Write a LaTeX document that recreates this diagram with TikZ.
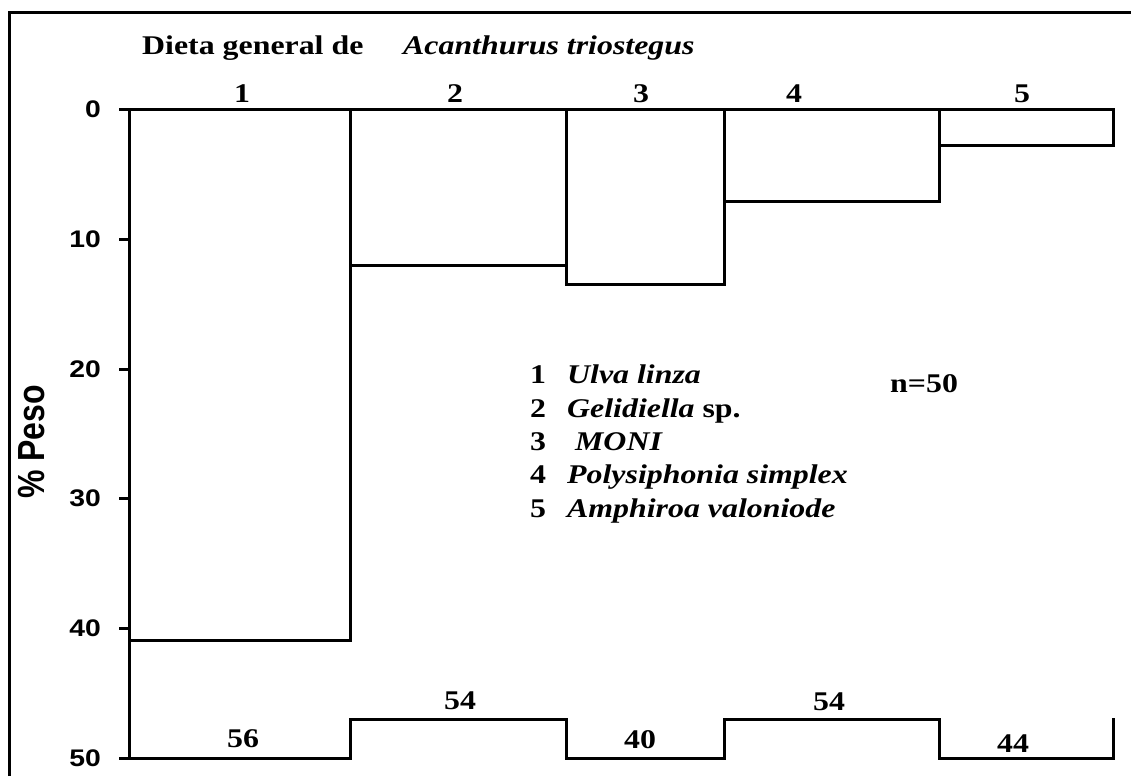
\documentclass[tikz,border=0pt]{standalone}
\usepackage{fontspec}
\setmainfont{Liberation Serif}[FakeStretch=1.18]
\setsansfont{Liberation Sans}[FakeStretch=1.18]
\newfontfamily\pesofont{Liberation Sans}
\tikzset{
  ln/.style={line width=3pt, line join=miter, line cap=rect},
  serlab/.style={font=\fontsize{27}{33}\selectfont\bfseries, inner sep=0pt},
  ticklab/.style={font=\sffamily\fontsize{24}{28}\selectfont\bfseries, inner sep=0pt, anchor=east},
}
\begin{document}
\begin{tikzpicture}[x=1pt,y=-1pt]
\useasboundingbox (0,0) rectangle (1131,776);
% frame (top and left visible)
\draw[line width=3.2pt] (9.5,776) -- (9.5,12.5) -- (1131,12.5);
% title
\node[serlab, anchor=base west] (t1) at (142,55) {Dieta general de};
\node[serlab, anchor=base west] (t2) at (403,55) {\itshape Acanthurus triostegus};
% category numbers
\node[serlab, anchor=base] (c1) at (242,102) {1};
\node[serlab, anchor=base] (c2) at (455,102) {2};
\node[serlab, anchor=base] (c3) at (641,102) {3};
\node[serlab, anchor=base] (c4) at (794,102) {4};
\node[serlab, anchor=base] (c5) at (1022,102) {5};
% axis
\draw[ln] (120,109) -- (1113,109);
\draw[ln] (129,109) -- (129,758);
\foreach \v/\yy in {10/239,20/369,30/498,40/628}{
  \draw[ln] (120,\yy) -- (129,\yy);
}
\foreach \v/\yy in {0/109,10/239,20/369,30/498,40/628,50/758}{
  \node[ticklab] (y\v) at (101,\yy) {\v};
}
\node[inner sep=0pt, rotate=90] (ylab) at (32,442) {\scalebox{1}[1.18]{\pesofont\fontsize{32}{36}\selectfont\bfseries \% Peso}};
% bars
\draw[ln] (129,109) rectangle (350,640);
\draw[ln] (350,109) rectangle (566,265);
\draw[ln] (566,109) rectangle (724,284);
\draw[ln] (724,109) rectangle (939,201);
\draw[ln] (939,109) rectangle (1113,145);
% bottom step line
\draw[ln] (120,758) -- (350,758) -- (350,719) -- (566,719) -- (566,758) -- (724,758) -- (724,719) -- (939,719) -- (939,758) -- (1113,758) -- (1113,719);
\node[serlab, anchor=base] (n1) at (243,747) {56};
\node[serlab, anchor=base] (n2) at (460,709) {54};
\node[serlab, anchor=base] (n3) at (640,748) {40};
\node[serlab, anchor=base] (n4) at (829,710) {54};
\node[serlab, anchor=base] (n5) at (1013,752) {44};
% legend
\foreach \k/\yy/\txt in {1/383/{\itshape Ulva linza},2/417/{{\itshape Gelidiella} sp.},3/450/{\ \itshape MONI},4/483/{\itshape Polysiphonia simplex},5/517/{\itshape Amphiroa valoniode}}{
  \node[serlab, anchor=base] (k\k) at (538,\yy) {\k};
  \node[serlab, anchor=base west] (l\k) at (567,\yy) {\txt};
}
\node[serlab, anchor=base west] (nn) at (890,392) {n=50};
\end{tikzpicture}
\end{document}
